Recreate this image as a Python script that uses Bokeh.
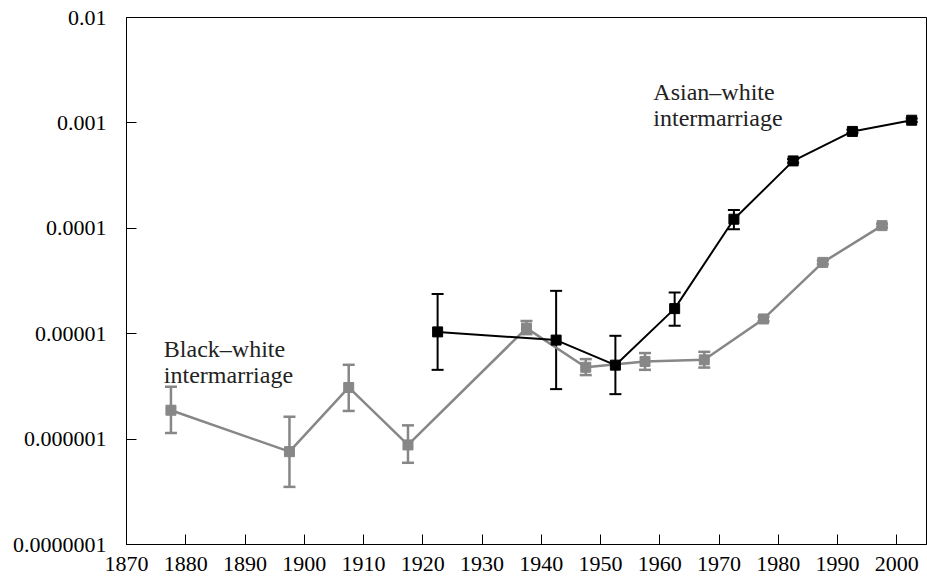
from bokeh.plotting import figure
from bokeh.models import ColumnDataSource, Whisker, TeeHead, FixedTicker, CustomJSTickFormatter
from bokeh.core.properties import value
from bokeh.embed import file_html
from bokeh.resources import INLINE

# ---- data ----
bw_year = [1877.5, 1897.5, 1907.5, 1917.5, 1937.5, 1947.5, 1957.5, 1967.5, 1977.5, 1987.5, 1997.5]
bw_val = [1.88e-6, 7.6e-7, 3.09e-6, 8.8e-7, 1.13e-5, 4.8e-6, 5.45e-6, 5.65e-6, 1.38e-5, 4.75e-5, 1.06e-4]
bw_hi = [3.13e-6, 1.63e-6, 5.07e-6, 1.35e-6, 1.32e-5, 5.74e-6, 6.55e-6, 6.73e-6, 1.45e-5, 4.95e-5, 1.10e-4]
bw_lo = [1.14e-6, 3.52e-7, 1.85e-6, 5.96e-7, 9.9e-6, 4.05e-6, 4.54e-6, 4.77e-6, 1.31e-5, 4.55e-5, 1.02e-4]

aw_year = [1922.5, 1942.5, 1952.5, 1962.5, 1972.5, 1982.5, 1992.5, 2002.5]
aw_val = [1.04e-5, 8.7e-6, 5.03e-6, 1.73e-5, 1.22e-4, 4.36e-4, 8.3e-4, 1.06e-3]
aw_hi = [2.38e-5, 2.55e-5, 9.55e-6, 2.46e-5, 1.49e-4, 4.55e-4, 8.6e-4, 1.10e-3]
aw_lo = [4.54e-6, 2.98e-6, 2.67e-6, 1.19e-5, 9.8e-5, 4.18e-4, 8.0e-4, 1.02e-3]

x_ticks = [1870, 1880, 1890, 1900, 1910, 1920, 1930, 1940, 1950, 1960, 1970, 1980, 1990, 2000]
y_ticks = [1e-7, 1e-6, 1e-5, 1e-4, 1e-3, 1e-2]
y_tick_labels = ["0.0000001", "0.000001", "0.00001", "0.0001", "0.001", "0.01"]

label_text = ["Black\u2013white\nintermarriage", "Asian\u2013white\nintermarriage"]
label_x = [1876.3, 1958.9]
label_y = [9.6e-6, 2.6e-3]

FONT = "Liberation Serif"
GRAY = "#878787"

p = figure(width=927, height=582, output_backend="svg", toolbar_location=None,
           y_axis_type="log", x_range=(1870, 2005), y_range=(1e-7, 1e-2),
           min_border_left=126, min_border_right=1, min_border_top=17, min_border_bottom=38)
p.background_fill_color = "white"
p.border_fill_color = "white"
p.outline_line_color = "black"
p.outline_line_width = 1
p.grid.visible = False

for ax in (p.xaxis[0], p.yaxis[0]):
    ax.axis_line_color = "black"
    ax.axis_line_width = 1
    ax.major_tick_in = 10
    ax.major_tick_out = 0
    ax.minor_tick_line_color = None
    ax.major_tick_line_color = "black"
    ax.major_label_text_font = FONT
    ax.major_label_text_font_size = "22px"
    ax.major_label_text_color = "black"

p.xaxis[0].ticker = FixedTicker(ticks=x_ticks)
p.xaxis[0].major_label_standoff = 12
p.yaxis[0].ticker = FixedTicker(ticks=y_ticks)
p.yaxis[0].major_label_standoff = 20
p.yaxis[0].formatter = CustomJSTickFormatter(
    args=dict(tvals=y_ticks, tlabels=y_tick_labels),
    code="""
    let best = 0, bd = 1e9;
    for (let i = 0; i < tvals.length; i++) {
        const d = Math.abs(Math.log10(tvals[i]) - Math.log10(tick));
        if (d < bd) { bd = d; best = i; }
    }
    return tlabels[best];
    """)

bw = ColumnDataSource(dict(x=bw_year, y=bw_val, hi=bw_hi, lo=bw_lo))
aw = ColumnDataSource(dict(x=aw_year, y=aw_val, hi=aw_hi, lo=aw_lo))

# black-white (gray)
p.add_layout(Whisker(source=bw, base="x", upper="hi", lower="lo", dimension="height",
                     line_color=GRAY, line_width=2.5,
                     upper_head=TeeHead(size=12, line_color=GRAY, line_width=2.5),
                     lower_head=TeeHead(size=12, line_color=GRAY, line_width=2.5)))
p.line("x", "y", source=bw, line_color=GRAY, line_width=2.5)
p.scatter("x", "y", source=bw, marker="square", size=10, fill_color=GRAY, line_color=GRAY)

# asian-white (black)
p.add_layout(Whisker(source=aw, base="x", upper="hi", lower="lo", dimension="height",
                     line_color="black", line_width=2,
                     upper_head=TeeHead(size=12, line_color="black", line_width=2),
                     lower_head=TeeHead(size=12, line_color="black", line_width=2)))
p.line("x", "y", source=aw, line_color="black", line_width=2)
p.scatter("x", "y", source=aw, marker="square", size=10, fill_color="black", line_color="black")

p.text(x=label_x, y=label_y, text=label_text, text_font=value(FONT), text_font_size="24px",
       text_color="#222222", text_baseline="top", text_align="left", text_line_height=1.0)

open("out.html", "w").write(file_html(p, INLINE))
